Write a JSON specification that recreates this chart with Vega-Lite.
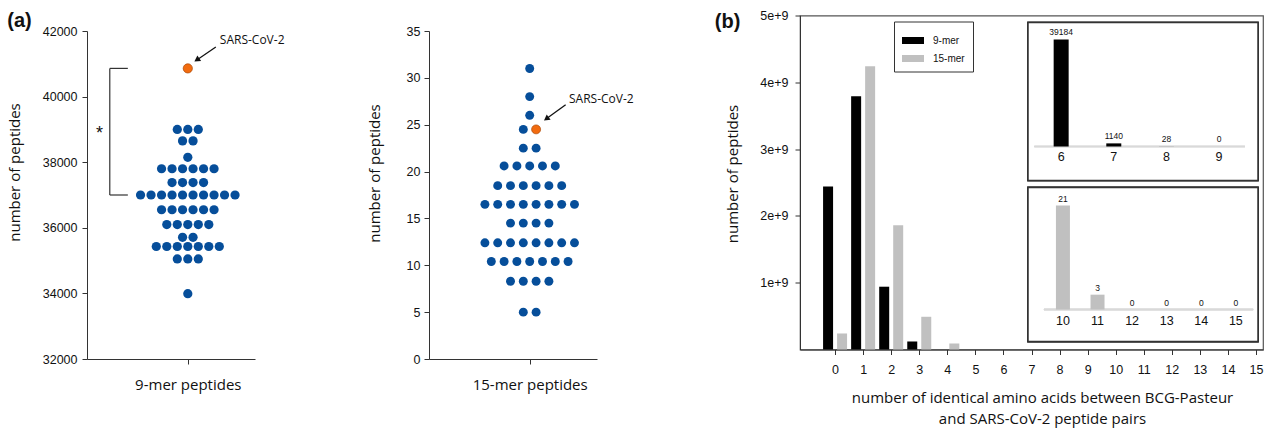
{
 "$schema": "https://vega.github.io/schema/vega-lite/v6.json",
 "background": "white",
 "padding": {"left": 7, "top": 8.5, "right": 0, "bottom": 0},
 "config": {
  "view": {"stroke": null},
  "axis": {"grid": false, "domainColor": "#333", "tickColor": "#333", "labelColor": "#111", "titleColor": "#111", "labelFont": "Liberation Sans", "labelFontSize": 12.5, "titleFont": "Open Sans", "titleFontSize": 15, "titleFontWeight": "normal", "tickSize": 5, "domainWidth": 1, "tickWidth": 1},
  "text": {"font": "Open Sans", "color": "#111"}
 },
 "resolve": {"scale": {"color": "independent"}, "legend": {"color": "independent"}},
 "spacing": 80,
 "hconcat": [
  {
   "title": {"text": "(a)", "anchor": "start", "frame": "bounds", "font": "Liberation Sans", "fontSize": 20, "fontWeight": "bold", "color": "#111", "offset": -15.5},
   "spacing": 8.5,
   "vconcat": [
    {"width": 1, "height": 1, "data": {"values": []}, "mark": "point", "encoding": {}},
    {
     "spacing": 82,
     "hconcat": [
      {
       "width": 168, "height": 328,
       "layer": [
        {
         "data": {"values": [
          {"genome": "SARS-CoV-2", "peptides": 40860, "offset": 0},
          {"genome": "other", "peptides": 39000, "offset": -1},
          {"genome": "other", "peptides": 39000, "offset": 0},
          {"genome": "other", "peptides": 39000, "offset": 1},
          {"genome": "other", "peptides": 38650, "offset": -0.5},
          {"genome": "other", "peptides": 38650, "offset": 0.5},
          {"genome": "other", "peptides": 38150, "offset": 0},
          {"genome": "other", "peptides": 37800, "offset": -2.5},
          {"genome": "other", "peptides": 37800, "offset": -1.5},
          {"genome": "other", "peptides": 37800, "offset": -0.5},
          {"genome": "other", "peptides": 37800, "offset": 0.5},
          {"genome": "other", "peptides": 37800, "offset": 1.5},
          {"genome": "other", "peptides": 37800, "offset": 2.5},
          {"genome": "other", "peptides": 37380, "offset": -1.5},
          {"genome": "other", "peptides": 37380, "offset": -0.5},
          {"genome": "other", "peptides": 37380, "offset": 0.5},
          {"genome": "other", "peptides": 37380, "offset": 1.5},
          {"genome": "other", "peptides": 37000, "offset": -4.5},
          {"genome": "other", "peptides": 37000, "offset": -3.5},
          {"genome": "other", "peptides": 37000, "offset": -2.5},
          {"genome": "other", "peptides": 37000, "offset": -1.5},
          {"genome": "other", "peptides": 37000, "offset": -0.5},
          {"genome": "other", "peptides": 37000, "offset": 0.5},
          {"genome": "other", "peptides": 37000, "offset": 1.5},
          {"genome": "other", "peptides": 37000, "offset": 2.5},
          {"genome": "other", "peptides": 37000, "offset": 3.5},
          {"genome": "other", "peptides": 37000, "offset": 4.5},
          {"genome": "other", "peptides": 36550, "offset": -2.5},
          {"genome": "other", "peptides": 36550, "offset": -1.5},
          {"genome": "other", "peptides": 36550, "offset": -0.5},
          {"genome": "other", "peptides": 36550, "offset": 0.5},
          {"genome": "other", "peptides": 36550, "offset": 1.5},
          {"genome": "other", "peptides": 36550, "offset": 2.5},
          {"genome": "other", "peptides": 36100, "offset": -2},
          {"genome": "other", "peptides": 36100, "offset": -1},
          {"genome": "other", "peptides": 36100, "offset": 0},
          {"genome": "other", "peptides": 36100, "offset": 1},
          {"genome": "other", "peptides": 36100, "offset": 2},
          {"genome": "other", "peptides": 35710, "offset": -0.5},
          {"genome": "other", "peptides": 35710, "offset": 0.5},
          {"genome": "other", "peptides": 35430, "offset": -3},
          {"genome": "other", "peptides": 35430, "offset": -2},
          {"genome": "other", "peptides": 35430, "offset": -1},
          {"genome": "other", "peptides": 35430, "offset": 0},
          {"genome": "other", "peptides": 35430, "offset": 1},
          {"genome": "other", "peptides": 35430, "offset": 2},
          {"genome": "other", "peptides": 35430, "offset": 3},
          {"genome": "other", "peptides": 35050, "offset": -1},
          {"genome": "other", "peptides": 35050, "offset": 0},
          {"genome": "other", "peptides": 35050, "offset": 1},
          {"genome": "other", "peptides": 33990, "offset": 0}
         ]},
         "mark": {"type": "circle", "size": 85, "opacity": 1, "stroke": "#a84806"},
         "encoding": {
          "x": {"field": "offset", "type": "quantitative", "scale": {"domain": [-9.6, 6.4], "nice": false, "zero": false}, "axis": {"values": [0], "labelExpr": "'9-mer peptides'", "title": null, "labelFont": "Open Sans", "labelFontSize": 15, "labelPadding": 13}},
          "y": {"field": "peptides", "type": "quantitative", "scale": {"domain": [32000, 42000], "nice": false, "zero": false}, "axis": {"values": [32000, 34000, 36000, 38000, 40000, 42000], "format": "d", "title": "number of peptides", "titlePadding": 20, "titleY": 141, "labelPadding": 5}},
          "color": {"condition": {"test": "datum.genome === 'SARS-CoV-2'", "value": "#f26b0f"}, "value": "#064e9a"},
          "strokeWidth": {"condition": {"test": "datum.genome === 'SARS-CoV-2'", "value": 0.7}, "value": 0}
         }
        },
        {
         "data": {"values": [{"offset": -7.43, "peptides": 37000, "peptides2": 40860}]},
         "mark": {"type": "rule", "color": "#333", "strokeWidth": 1.2},
         "encoding": {"x": {"field": "offset", "type": "quantitative"}, "y": {"field": "peptides", "type": "quantitative"}, "y2": {"field": "peptides2"}}
        },
        {
         "data": {"values": [{"offset": -7.43, "offset2": -5.71, "peptides": 40860}, {"offset": -7.43, "offset2": -5.71, "peptides": 37000}]},
         "mark": {"type": "rule", "color": "#333", "strokeWidth": 1.2},
         "encoding": {"x": {"field": "offset", "type": "quantitative"}, "x2": {"field": "offset2"}, "y": {"field": "peptides", "type": "quantitative"}}
        },
        {
         "data": {"values": [{"offset": -8.4, "peptides": 38850, "label": "*"}]},
         "mark": {"type": "text", "font": "Liberation Sans", "fontSize": 18, "color": "#111"},
         "encoding": {"x": {"field": "offset", "type": "quantitative"}, "y": {"field": "peptides", "type": "quantitative"}, "text": {"field": "label"}}
        },
        {
         "data": {"values": [{"offset": 2.67, "peptides": 41513, "offset2": 0.86, "peptides2": 41117}]},
         "layer": [
          {"mark": {"type": "rule", "color": "#111", "strokeWidth": 1.3},
           "encoding": {"x": {"field": "offset", "type": "quantitative"}, "y": {"field": "peptides", "type": "quantitative"}, "x2": {"field": "offset2"}, "y2": {"field": "peptides2"}}},
          {"mark": {"type": "point", "shape": "triangle-up", "filled": true, "size": 45, "angle": 236, "color": "#111", "opacity": 1},
           "encoding": {"x": {"field": "offset2", "type": "quantitative"}, "y": {"field": "peptides2", "type": "quantitative"}}}
         ]
        },
        {
         "data": {"values": [{"offset": 3.05, "peptides": 41726, "label": "SARS-CoV-2"}]},
         "mark": {"type": "text", "align": "left", "baseline": "middle", "fontSize": 12, "font": "Open Sans", "color": "#111"},
         "encoding": {"x": {"field": "offset", "type": "quantitative"}, "y": {"field": "peptides", "type": "quantitative"}, "text": {"field": "label"}}
        }
       ]
      },
      {
       "width": 168, "height": 328,
       "layer": [
        {
         "data": {"values": [
          {"genome": "other", "peptides": 31, "offset": 0},
          {"genome": "other", "peptides": 28, "offset": 0},
          {"genome": "other", "peptides": 26, "offset": 0},
          {"genome": "other", "peptides": 24.5, "offset": -0.5},
          {"genome": "SARS-CoV-2", "peptides": 24.5, "offset": 0.5},
          {"genome": "other", "peptides": 22.5, "offset": -0.5},
          {"genome": "other", "peptides": 22.5, "offset": 0.5},
          {"genome": "other", "peptides": 20.6, "offset": -2},
          {"genome": "other", "peptides": 20.6, "offset": -1},
          {"genome": "other", "peptides": 20.6, "offset": 0},
          {"genome": "other", "peptides": 20.6, "offset": 1},
          {"genome": "other", "peptides": 20.6, "offset": 2},
          {"genome": "other", "peptides": 18.5, "offset": -2.5},
          {"genome": "other", "peptides": 18.5, "offset": -1.5},
          {"genome": "other", "peptides": 18.5, "offset": -0.5},
          {"genome": "other", "peptides": 18.5, "offset": 0.5},
          {"genome": "other", "peptides": 18.5, "offset": 1.5},
          {"genome": "other", "peptides": 18.5, "offset": 2.5},
          {"genome": "other", "peptides": 16.5, "offset": -3.5},
          {"genome": "other", "peptides": 16.5, "offset": -2.5},
          {"genome": "other", "peptides": 16.5, "offset": -1.5},
          {"genome": "other", "peptides": 16.5, "offset": -0.5},
          {"genome": "other", "peptides": 16.5, "offset": 0.5},
          {"genome": "other", "peptides": 16.5, "offset": 1.5},
          {"genome": "other", "peptides": 16.5, "offset": 2.5},
          {"genome": "other", "peptides": 16.5, "offset": 3.5},
          {"genome": "other", "peptides": 14.5, "offset": -1.5},
          {"genome": "other", "peptides": 14.5, "offset": -0.5},
          {"genome": "other", "peptides": 14.5, "offset": 0.5},
          {"genome": "other", "peptides": 14.5, "offset": 1.5},
          {"genome": "other", "peptides": 12.4, "offset": -3.5},
          {"genome": "other", "peptides": 12.4, "offset": -2.5},
          {"genome": "other", "peptides": 12.4, "offset": -1.5},
          {"genome": "other", "peptides": 12.4, "offset": -0.5},
          {"genome": "other", "peptides": 12.4, "offset": 0.5},
          {"genome": "other", "peptides": 12.4, "offset": 1.5},
          {"genome": "other", "peptides": 12.4, "offset": 2.5},
          {"genome": "other", "peptides": 12.4, "offset": 3.5},
          {"genome": "other", "peptides": 10.4, "offset": -3},
          {"genome": "other", "peptides": 10.4, "offset": -2},
          {"genome": "other", "peptides": 10.4, "offset": -1},
          {"genome": "other", "peptides": 10.4, "offset": 0},
          {"genome": "other", "peptides": 10.4, "offset": 1},
          {"genome": "other", "peptides": 10.4, "offset": 2},
          {"genome": "other", "peptides": 10.4, "offset": 3},
          {"genome": "other", "peptides": 8.3, "offset": -1.5},
          {"genome": "other", "peptides": 8.3, "offset": -0.5},
          {"genome": "other", "peptides": 8.3, "offset": 0.5},
          {"genome": "other", "peptides": 8.3, "offset": 1.5},
          {"genome": "other", "peptides": 5, "offset": -0.5},
          {"genome": "other", "peptides": 5, "offset": 0.5}
         ]},
         "mark": {"type": "circle", "size": 80, "opacity": 1, "stroke": "#a84806"},
         "encoding": {
          "x": {"field": "offset", "type": "quantitative", "scale": {"domain": [-7.87, 5.26], "nice": false, "zero": false}, "axis": {"values": [0], "labelExpr": "'15-mer peptides'", "title": null, "labelFont": "Open Sans", "labelFontSize": 15, "labelPadding": 13}},
          "y": {"field": "peptides", "type": "quantitative", "scale": {"domain": [0, 35], "nice": false}, "axis": {"values": [0, 5, 10, 15, 20, 25, 30, 35], "title": "number of peptides", "titlePadding": 24, "titleY": 142, "labelPadding": 4}},
          "color": {"condition": {"test": "datum.genome === 'SARS-CoV-2'", "value": "#f26b0f"}, "value": "#064e9a"},
          "strokeWidth": {"condition": {"test": "datum.genome === 'SARS-CoV-2'", "value": 0.7}, "value": 0}
         }
        },
        {
         "data": {"values": [{"offset": 2.81, "peptides": 27.12, "offset2": 1.3, "peptides2": 25.63}]},
         "layer": [
          {"mark": {"type": "rule", "color": "#111", "strokeWidth": 1.3},
           "encoding": {"x": {"field": "offset", "type": "quantitative"}, "y": {"field": "peptides", "type": "quantitative"}, "x2": {"field": "offset2"}, "y2": {"field": "peptides2"}}},
          {"mark": {"type": "point", "shape": "triangle-up", "filled": true, "size": 45, "angle": 234, "color": "#111", "opacity": 1},
           "encoding": {"x": {"field": "offset2", "type": "quantitative"}, "y": {"field": "peptides2", "type": "quantitative"}}}
         ]
        },
        {
         "data": {"values": [{"offset": 3.07, "peptides": 27.72, "label": "SARS-CoV-2"}]},
         "mark": {"type": "text", "align": "left", "baseline": "middle", "fontSize": 12, "font": "Open Sans", "color": "#111"},
         "encoding": {"x": {"field": "offset", "type": "quantitative"}, "y": {"field": "peptides", "type": "quantitative"}, "text": {"field": "label"}}
        }
       ]
      }
     ]
    }
   ]
  },
  {
   "width": 463, "height": 334,
   "view": {"stroke": "#555", "strokeWidth": 1.2},
   "title": {"text": "(b)", "anchor": "start", "frame": "bounds", "font": "Liberation Sans", "fontSize": 20, "fontWeight": "bold", "color": "#111", "offset": -22, "dx": -11},
   "resolve": {"scale": {"x": "independent", "y": "independent"}},
   "layer": [
    {
     "data": {"values": [
      {"identical": 0, "length": "9-mer", "count": 2440000000},
      {"identical": 0, "length": "15-mer", "count": 240000000},
      {"identical": 1, "length": "9-mer", "count": 3790000000},
      {"identical": 1, "length": "15-mer", "count": 4240000000},
      {"identical": 2, "length": "9-mer", "count": 940000000},
      {"identical": 2, "length": "15-mer", "count": 1860000000},
      {"identical": 3, "length": "9-mer", "count": 120000000},
      {"identical": 3, "length": "15-mer", "count": 490000000},
      {"identical": 4, "length": "15-mer", "count": 90000000}
     ]},
     "encoding": {
      "x": {"field": "identical", "type": "quantitative", "scale": {"domain": [-1.25, 15.25], "nice": false, "zero": false, "padding": 0}, "axis": {"values": [0, 1, 2, 3, 4, 5, 6, 7, 8, 9, 10, 11, 12, 13, 14, 15], "title": ["number of identical amino acids between BCG-Pasteur", "and SARS-CoV-2 peptide pairs"], "titleLineHeight": 21, "titlePadding": 14, "titleX": 242, "labelPadding": 9}},
      "y": {"field": "count", "type": "quantitative", "scale": {"domain": [0, 5000000000], "nice": false, "padding": 0}, "axis": {"values": [1000000000, 2000000000, 3000000000, 4000000000, 5000000000], "labelExpr": "format(datum.value / 1e9, 'd') + 'e+9'", "title": "number of peptides", "titlePadding": 19, "titleY": 158, "labelPadding": 7}},
      "color": {"field": "length", "type": "nominal", "scale": {"domain": ["9-mer", "15-mer"], "range": ["#000000", "#c0c0c0"]},
       "legend": {"orient": "none", "legendX": 94, "legendY": 6, "title": null, "strokeColor": "#333", "fillColor": "white", "padding": 8, "rowPadding": 2, "symbolType": "M-1,-0.32H1V0.32H-1Z", "symbolSize": 484, "symbolStrokeWidth": 0, "labelFont": "Liberation Sans", "labelFontSize": 10, "labelOffset": 9, "labelColor": "#111"}}
     },
     "layer": [
      {"transform": [{"filter": "datum.length === '9-mer'"}], "mark": {"type": "bar", "width": 10, "xOffset": -7}},
      {"transform": [{"filter": "datum.length === '15-mer'"}], "mark": {"type": "bar", "width": 10, "xOffset": 7}}
     ]
    },
    {
     "data": {"values": [{"identical": 6, "peptides": 39184}, {"identical": 7, "peptides": 1140}, {"identical": 8, "peptides": 28}, {"identical": 9, "peptides": 0}]},
     "layer": [
      {"mark": {"type": "rect", "fill": "white", "stroke": "#333", "strokeWidth": 1.5},
       "encoding": {"x": {"datum": 5.37, "type": "quantitative", "scale": {"domain": [5.37, 9.74], "range": [228, 458], "nice": false, "zero": false, "padding": 0}, "axis": null}, "x2": {"datum": 9.74}, "y": {"datum": -12450, "type": "quantitative", "scale": {"domain": [-12450, 45400], "range": [165, 7], "nice": false, "zero": false, "padding": 0}, "axis": null}, "y2": {"datum": 45400}}},
      {"mark": {"type": "rule", "color": "#d9d9d9", "strokeWidth": 1.5},
       "encoding": {"x": {"datum": 5.49, "type": "quantitative"}, "x2": {"datum": 9.49}, "y": {"datum": 0, "type": "quantitative"}}},
      {"mark": {"type": "bar", "width": 15, "color": "#000000"},
       "encoding": {"x": {"field": "identical", "type": "quantitative"}, "y": {"field": "peptides", "type": "quantitative"}}},
      {"mark": {"type": "text", "baseline": "bottom", "dy": -2, "fontSize": 8.5, "font": "Liberation Sans", "color": "#111"},
       "encoding": {"x": {"field": "identical", "type": "quantitative"}, "y": {"field": "peptides", "type": "quantitative"}, "text": {"field": "peptides", "type": "quantitative", "format": "d"}}},
      {"mark": {"type": "text", "baseline": "middle", "dy": 11, "fontSize": 12.5, "font": "Liberation Sans", "color": "#111"},
       "encoding": {"x": {"field": "identical", "type": "quantitative"}, "y": {"datum": 0, "type": "quantitative"}, "text": {"field": "identical", "type": "quantitative", "format": "d"}}}
     ]
    },
    {
     "data": {"values": [{"identical": 10, "peptides": 21}, {"identical": 11, "peptides": 3}, {"identical": 12, "peptides": 0}, {"identical": 13, "peptides": 0}, {"identical": 14, "peptides": 0}, {"identical": 15, "peptides": 0}]},
     "layer": [
      {"mark": {"type": "rect", "fill": "white", "stroke": "#333", "strokeWidth": 1.5},
       "encoding": {"x": {"datum": 8.99, "type": "quantitative", "scale": {"domain": [8.99, 15.64], "range": [228, 458], "nice": false, "zero": false, "padding": 0}, "axis": null}, "x2": {"datum": 15.64}, "y": {"datum": -6.46, "type": "quantitative", "scale": {"domain": [-6.46, 24.64], "range": [326, 172], "nice": false, "zero": false, "padding": 0}, "axis": null}, "y2": {"datum": 24.64}}},
      {"mark": {"type": "rule", "color": "#d9d9d9", "strokeWidth": 1.5},
       "encoding": {"x": {"datum": 9.45, "type": "quantitative"}, "x2": {"datum": 15.5}, "y": {"datum": 0, "type": "quantitative"}}},
      {"mark": {"type": "bar", "width": 14, "color": "#c0c0c0"},
       "encoding": {"x": {"field": "identical", "type": "quantitative"}, "y": {"field": "peptides", "type": "quantitative"}}},
      {"mark": {"type": "text", "baseline": "bottom", "dy": -2, "fontSize": 8.5, "font": "Liberation Sans", "color": "#111"},
       "encoding": {"x": {"field": "identical", "type": "quantitative"}, "y": {"field": "peptides", "type": "quantitative"}, "text": {"field": "peptides", "type": "quantitative", "format": "d"}}},
      {"mark": {"type": "text", "baseline": "middle", "dy": 11, "fontSize": 12.5, "font": "Liberation Sans", "color": "#111"},
       "encoding": {"x": {"field": "identical", "type": "quantitative"}, "y": {"datum": 0, "type": "quantitative"}, "text": {"field": "identical", "type": "quantitative", "format": "d"}}}
     ]
    }
   ]
  }
 ]
}
